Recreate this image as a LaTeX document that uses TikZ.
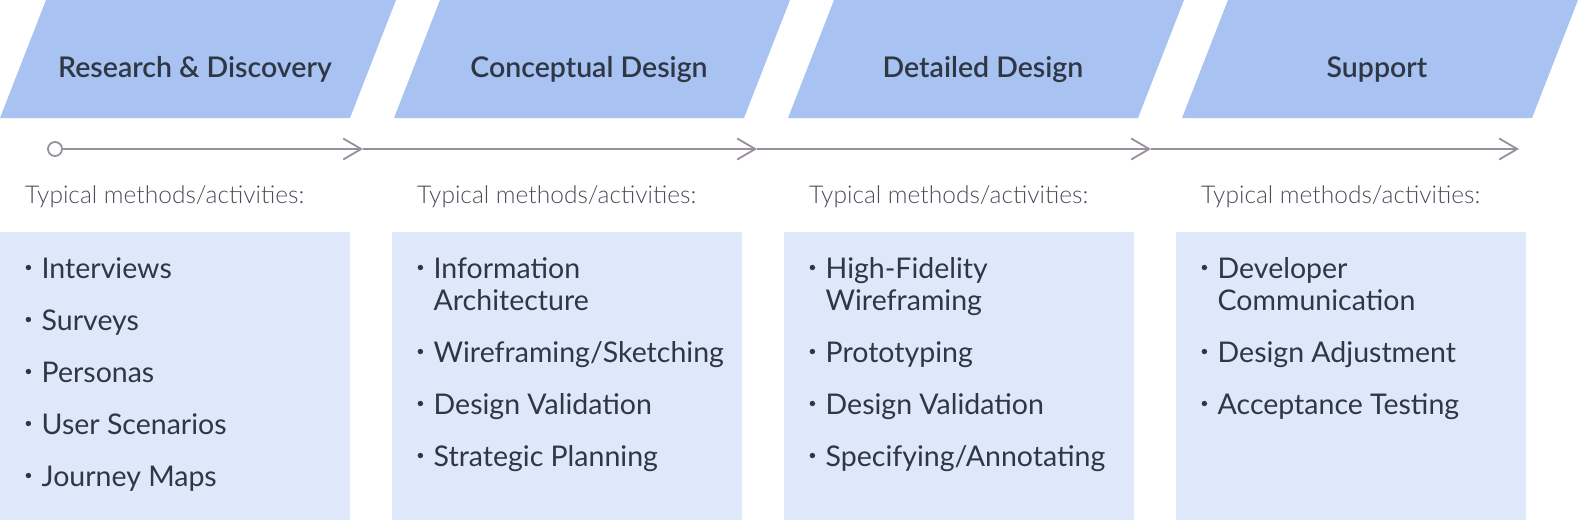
\documentclass[tikz,border=0pt]{standalone}
\usepackage{fontspec}
\setmainfont{Lato}
\newfontfamily\lightfont{Lato Light}
\newfontfamily\headfont{Lato Semibold}
\usetikzlibrary{arrows.meta}
\definecolor{phase}{HTML}{A8C2F2}
\definecolor{pane}{HTML}{DFE8FA}
\definecolor{ink}{HTML}{2F3745}
\definecolor{rail}{HTML}{978F9D}
\definecolor{note}{HTML}{474D59}
\newcommand{\dotmark}{\raisebox{10.5pt}{\tikz[baseline=0pt]\fill[ink] (0pt,0pt) circle (2.7pt);}}

\begin{document}
\begin{tikzpicture}[x=1pt, y=-1pt,
	phase label/.style={font=\headfont\fontsize{28.5}{32}\selectfont, text=ink, inner sep=0pt, anchor=base},
	note label/.style={font=\lightfont\fontsize{24.5}{28}\selectfont, text=note, inner sep=0pt, anchor=base west},
	list/.style={font=\fontsize{28.5}{32}\selectfont, text=ink, inner sep=0pt, anchor=base west},
	rail line/.style={draw=rail, line width=1.8pt},
	rail tip/.style={-{Straight Barb[length=18pt, width=21pt]}},
	start dot/.style={circle, draw=rail, line width=1.8pt, fill=white, minimum size=14pt, inner sep=0pt}]
	%\draw[help lines] (0,0) grid[step=50] (1580,520);
	\useasboundingbox (0,0) rectangle (1580,520);
		\foreach \i/\name in {0/Research \& Discovery, 1/Conceptual Design, 2/Detailed Design, 3/Support}{
		  \fill[phase] ({394*\i},118) -- ({394*\i+350},118) -- ({394*\i+396},0) -- ({394*\i+46},0) -- cycle;
		  \node[phase label] (head\i) at ({394*\i+195},77) {\name};
		  \fill[pane] ({392*\i},232) rectangle ({392*\i+350},520);
		  \node[note label] (note\i) at ({392*\i+25},203) {Typical methods/activities:};
		}
		\node[start dot] (t0) at (55,149) {};
		\coordinate (t1) at (363,149);
		\coordinate (t2) at (757,149);
		\coordinate (t3) at (1151,149);
		\coordinate (t4) at (1519,149);
		\draw[rail line, rail tip] (t0) -- (t1);
		\foreach \a/\b in {t1/t2, t2/t3, t3/t4}{
		  \draw[rail line, rail tip] (\a) -- (\b);
		}
		\node[list] (list0) at (25.5,278) {\begin{tabular}[t]{@{}p{16pt}@{}l@{}}
		  \dotmark & Interviews\\[20pt]
		  \dotmark & Surveys\\[20pt]
		  \dotmark & Personas\\[20pt]
		  \dotmark & User Scenarios\\[20pt]
		  \dotmark & Journey Maps
		\end{tabular}};
		\node[list] (list1) at (417.5,278) {\begin{tabular}[t]{@{}p{16pt}@{}l@{}}
		  \dotmark & Information\\
		    & Architecture\\[20pt]
		  \dotmark & Wireframing/Sketching\\[20pt]
		  \dotmark & Design Validation\\[20pt]
		  \dotmark & Strategic Planning
		\end{tabular}};
		\node[list] (list2) at (809.5,278) {\begin{tabular}[t]{@{}p{16pt}@{}l@{}}
		  \dotmark & High-Fidelity\\
		    & Wireframing\\[20pt]
		  \dotmark & Prototyping\\[20pt]
		  \dotmark & Design Validation\\[20pt]
		  \dotmark & Specifying/Annotating
		\end{tabular}};
		\node[list] (list3) at (1201.5,278) {\begin{tabular}[t]{@{}p{16pt}@{}l@{}}
		  \dotmark & Developer\\
		    & Communication\\[20pt]
		  \dotmark & Design Adjustment\\[20pt]
		  \dotmark & Acceptance Testing
		\end{tabular}};
	\end{tikzpicture}
\end{document}
